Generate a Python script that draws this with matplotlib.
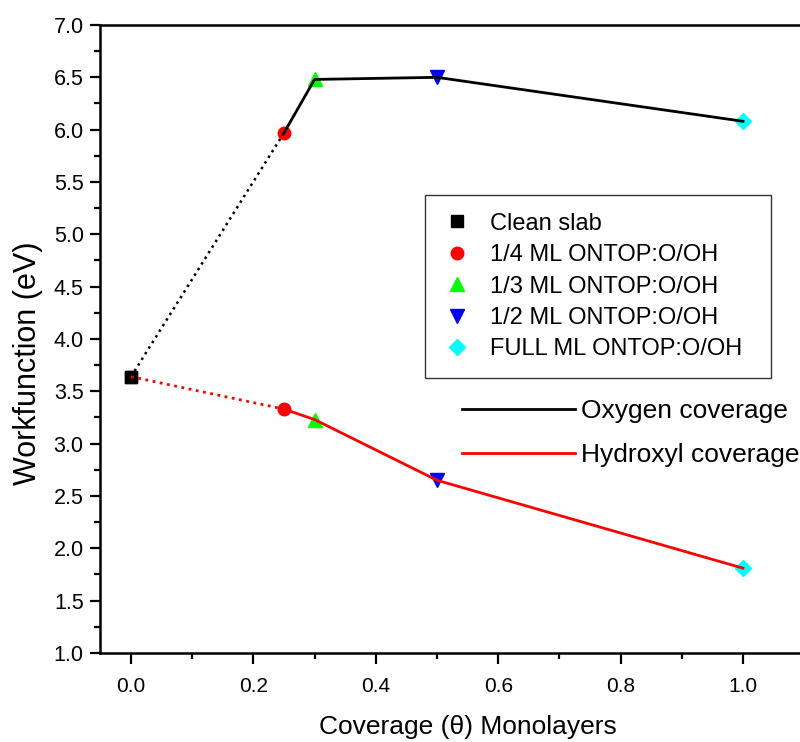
import matplotlib
matplotlib.use("Agg")
import matplotlib.pyplot as plt
from matplotlib.ticker import MultipleLocator
from matplotlib.lines import Line2D

plt.rcParams["font.family"] = ["Liberation Sans", "DejaVu Sans"]

coverage = [0.0, 0.25, 0.3, 0.5, 1.0]
wf_oxygen = [3.64, 5.97, 6.48, 6.50, 6.08]
wf_hydroxyl = [3.64, 3.33, 3.23, 2.65, 1.81]

point_labels = ["Clean slab", "1/4 ML ONTOP:O/OH", "1/3 ML ONTOP:O/OH",
                "1/2 ML ONTOP:O/OH", "FULL ML ONTOP:O/OH"]
point_markers = ["s", "o", "^", "v", "D"]
point_colors = ["black", "red", "#00ff00", "blue", "cyan"]
point_sizes = [8, 9, 10.5, 10.5, 8]

fig = plt.figure(figsize=(8, 7.42), dpi=100)
ax = fig.add_axes([0.1255, 0.12, 0.918, 0.8463])

# markers underneath, lines drawn over them
for x, yo, yh, m, c, s, lab in zip(coverage, wf_oxygen, wf_hydroxyl,
                                   point_markers, point_colors, point_sizes,
                                   point_labels):
    ax.plot([x, x], [yo, yh], ls="none", marker=m, color=c, ms=s,
            mec=c, zorder=2, label=lab)

ax.plot(coverage[:2], wf_oxygen[:2], ls=":", color="black", lw=1.8, zorder=3)
ax.plot(coverage[1:], wf_oxygen[1:], ls="-", color="black", lw=2.0, zorder=3)
ax.plot(coverage[:2], wf_hydroxyl[:2], ls=":", color="red", lw=2.0, zorder=3)
ax.plot(coverage[1:], wf_hydroxyl[1:], ls="-", color="red", lw=2.0, zorder=3)

xt = [0.0, 0.2, 0.4, 0.6, 0.8, 1.0]
yt = [1.0 + 0.5 * i for i in range(13)]
ax.set_xticks(xt)
ax.set_xticklabels([f"{t:.1f}" for t in xt], fontsize=15)
ax.set_yticks(yt)
ax.set_yticklabels([f"{t:.1f}" for t in yt], fontsize=15.5)
ax.xaxis.set_minor_locator(MultipleLocator(0.1))
ax.yaxis.set_minor_locator(MultipleLocator(0.25))
ax.set_xlim(-0.05, 1.15)
ax.set_ylim(1.0, 7.0)

for sp in ax.spines.values():
    sp.set_linewidth(1.8)
ax.tick_params(axis="both", which="both", direction="out", width=1.6)
ax.tick_params(axis="y", which="major", length=7, pad=5)
ax.tick_params(axis="y", which="minor", length=4)
ax.tick_params(axis="x", which="major", length=8, pad=9)
ax.tick_params(axis="x", which="minor", length=4)

ax.set_xlabel("Coverage (\u03b8) Monolayers", fontsize=19, labelpad=14)
ax.set_ylabel("Workfunction (eV)", fontsize=22)
ax.yaxis.set_label_coords(-0.078, 0.462)

leg1 = ax.legend(loc="upper left",
                 bbox_to_anchor=(425 / 800, 1 - 378 / 742, 346 / 800, 183 / 742),
                 bbox_transform=fig.transFigure, mode="expand",
                 fontsize=17, frameon=True,
                 fancybox=False, edgecolor="black", borderaxespad=0,
                 handlelength=1.2, handletextpad=0.8, labelspacing=0.4,
                 borderpad=0.75, numpoints=1)
leg1.get_frame().set_linewidth(1.0)
ax.add_artist(leg1)

series_handles = [Line2D([], [], color="black", lw=2.0),
                  Line2D([], [], color="red", lw=2.0)]
ax.legend(series_handles, ["Oxygen coverage", "Hydroxyl coverage"],
          loc="upper left", bbox_to_anchor=(462 / 800, 1 - 399 / 742),
          bbox_transform=fig.transFigure, fontsize=19, frameon=False,
          borderaxespad=0, borderpad=0, handlelength=4.3,
          handletextpad=0.2, labelspacing=0.75)

fig.savefig("out.png", dpi=100)
